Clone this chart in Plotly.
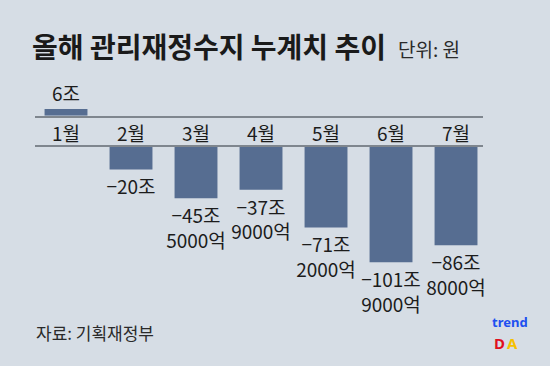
import plotly.graph_objects as go

months = ["1월", "2월", "3월", "4월", "5월", "6월", "7월"]
values = [6, -20, -45.5, -37.9, -71.2, -101.9, -86.8]  # 단위: 조 원
labels = ["6조", "−20조", "−45조<br>5000억", "−37조<br>9000억", "−71조<br>2000억",
          "−101조<br>9000억", "−86조<br>8000억"]

BG = "#d6dde5"
BAR = "#566d91"
LINE = "#7f868e"
TXT = "#1c1c1c"
FONT = "Liberation Sans Narrow, Noto Sans CJK KR, sans-serif"

H = 366.0
def fy(px):
    return 1 - px / H

pos_y = [v if v > 0 else None for v in values]
neg_y = [v if v < 0 else None for v in values]
pos_t = [t if v > 0 else "" for v, t in zip(values, labels)]
neg_t = [t if v < 0 else "" for v, t in zip(values, labels)]

fig = go.Figure()
fig.add_trace(go.Bar(x=months, y=pos_y, text=pos_t, textposition="outside",
                     marker=dict(color=BAR, line=dict(width=0)),
                     textfont=dict(family=FONT, size=19, color=TXT),
                     constraintext="none", cliponaxis=False,
                     xaxis="x", yaxis="y", hoverinfo="skip"))
fig.add_trace(go.Bar(x=months, y=neg_y, text=neg_t, textposition="outside",
                     marker=dict(color=BAR, line=dict(width=0)),
                     textfont=dict(family=FONT, size=19, color=TXT),
                     constraintext="none", cliponaxis=False,
                     xaxis="x2", yaxis="y2", hoverinfo="skip"))

xr = [-0.477, 6.415]
xdom = [35 / 550, 483 / 550]
fig.update_layout(
    width=550, height=366,
    margin=dict(l=0, r=0, t=0, b=0),
    paper_bgcolor=BG, plot_bgcolor=BG,
    showlegend=False, bargap=0.34,
    font=dict(family=FONT, color=TXT),
    xaxis=dict(domain=xdom, range=xr, anchor="y", showline=True, linecolor=LINE,
               linewidth=1.5, showgrid=False, zeroline=False, ticks="",
               tickfont=dict(family=FONT, size=19, color=TXT), ticklabelstandoff=1),
    yaxis=dict(domain=[fy(115.7), fy(80)], range=[0, 31.45], visible=False),
    xaxis2=dict(domain=xdom, range=xr, anchor="y2", side="top", showline=True,
                linecolor=LINE, linewidth=1.5, showgrid=False, zeroline=False,
                showticklabels=False, ticks=""),
    yaxis2=dict(domain=[fy(300), fy(146.7)], range=[-135.1, 0], visible=False),
)

ann = [
    dict(text="<b>올해 관리재정수지 누계치 추이</b>", x=31 / 550, y=fy(46), xanchor="left",
         yanchor="middle", font=dict(family="Noto Sans CJK KR", size=28, color="#1a1a1a")),
    dict(text="단위: 원", x=397 / 550, y=fy(48), xanchor="left", yanchor="middle",
         font=dict(family="Noto Sans CJK KR", size=19, color="#2a2a2a")),
    dict(text="자료: 기획재정부", x=35 / 550, y=fy(332), xanchor="left", yanchor="middle",
         font=dict(family="Noto Sans CJK KR", size=17, color="#2a2a2a")),
    dict(text="<b>trend</b>", x=510 / 550, y=fy(332), xanchor="center", yanchor="bottom",
         font=dict(family="Noto Sans", size=13, color="#2050f0")),
    dict(text="<b>D</b>", x=506 / 550, y=fy(332), xanchor="right", yanchor="top",
         font=dict(family="Noto Sans", size=15, color="#e0101e")),
    dict(text="<b>A</b>", x=506 / 550, y=fy(332), xanchor="left", yanchor="top",
         font=dict(family="Noto Sans", size=15, color="#f5c000")),
]
for a in ann:
    a.update(xref="paper", yref="paper", showarrow=False, borderpad=0)
fig.update_layout(annotations=ann)

fig.write_html("out.html", config={"displayModeBar": False},
               post_script="document.body.style.margin='0';document.body.style.background='%s';" % BG)
